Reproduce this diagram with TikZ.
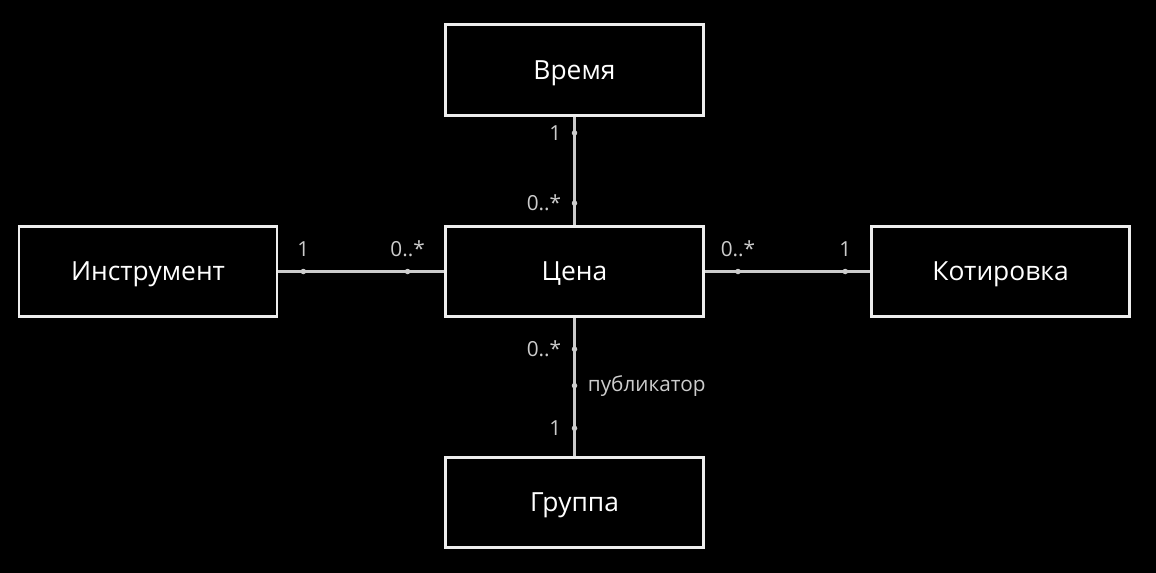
\documentclass[tikz,border=0pt]{standalone}
\usepackage{fontspec}
\setmainfont{Open Sans}
\usepackage{xcolor}
\usepackage{tikz}
\usetikzlibrary{positioning}
\definecolor{boxline}{HTML}{EEEEEE}
\definecolor{wire}{HTML}{CCCCCC}
\tikzstyle{entity} = [rectangle, draw=boxline, line width=1.7pt, minimum width=5.16cm, minimum height=1.81cm, text=white, text height=10.7pt, text depth=0pt, font=\fontsize{15}{18}\selectfont]
\tikzstyle{assoc}  = [draw=wire, line width=1.7pt]
\tikzstyle{dot}    = [circle, fill=wire, inner sep=0pt, minimum size=0.11cm]
\tikzstyle{mult}   = [text=wire, inner sep=1pt, font=\fontsize{11.8}{14}\selectfont]

\begin{document}
\begin{tikzpicture}
    \fill[black] (0,0) rectangle (23.12,-11.46);
    \useasboundingbox (0,0) rectangle (23.12,-11.46);

    \node (time)  at (11.49,-1.40)  [entity] {Время};
    \node (price) at (11.49,-5.43)  [entity] {Цена};
    \node (instr) at (2.96,-5.43)   [entity] {Инструмент};
    \node (quote) at (20.01,-5.43)  [entity] {Котировка};
    \node (group) at (11.49,-10.05) [entity] {Группа};

    % time -- price
    \draw [assoc] (time) -- node[dot, pos=0.15] (t1) {} node[dot, pos=0.80] (t2) {} (price);
    \node (t1l) [mult, left=4pt of t1] {1};
    \node (t2l) [mult, left=4pt of t2] {0..*};

    % instrument -- price
    \draw [assoc] (instr) -- node[dot, pos=0.15] (i1) {} node[dot, pos=0.78] (i2) {} (price);
    \node (i1l) [mult, above=5pt of i1] {1};
    \node (i2l) [mult, above=5pt of i2] {0..*};

    % price -- quote
    \draw [assoc] (price) -- node[dot, pos=0.20] (q1) {} node[dot, pos=0.85] (q2) {} (quote);
    \node (q1l) [mult, above=5pt of q1] {0..*};
    \node (q2l) [mult, above=5pt of q2] {1};

    % price -- group
    \draw [assoc] (price) -- node[dot, pos=0.225] (g1) {} node[dot, pos=0.49] (g2) {} node[dot, pos=0.80] (g3) {} (group);
    \node (g1l) [mult, left=4pt of g1]  {0..*};
    \node (g2l) [mult, right=4pt of g2] {публикатор};
    \node (g3l) [mult, left=4pt of g3]  {1};
\end{tikzpicture}
\end{document}
